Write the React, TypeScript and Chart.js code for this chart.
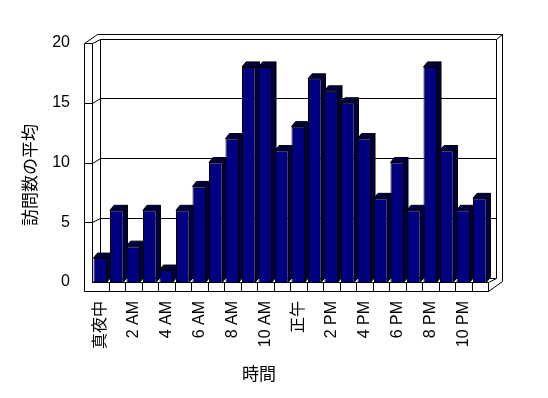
import React, { useEffect, useRef } from 'react';
import { Chart, registerables } from 'chart.js';

Chart.register(...registerables);

// ---- data ----
const hourLabels = [
  '真夜中', '1 AM', '2 AM', '3 AM', '4 AM', '5 AM', '6 AM', '7 AM', '8 AM', '9 AM', '10 AM', '11 AM',
  '正午', '1 PM', '2 PM', '3 PM', '4 PM', '5 PM', '6 PM', '7 PM', '8 PM', '9 PM', '10 PM', '11 PM',
];
const visitAverages = [2, 6, 3, 6, 1, 6, 8, 10, 12, 18, 18, 11, 13, 17, 16, 15, 12, 7, 10, 6, 18, 11, 6, 7];
const yTickValues = [0, 5, 10, 15, 20];
const yAxisTitle = '訪問数の平均';
const xAxisTitle = '時間';

// ---- style ----
const FONT = "'Liberation Sans', 'Noto Sans CJK JP', sans-serif";
const CJK_FONT = "'Noto Sans CJK JP', sans-serif";
const DEPTH = { x: 7.5, y: -4.5 };
const WALL = { x: 6, y: -5 };
const LEFT_WALL = 8.5;
const FLOOR = 8.5;
const BAR_DEPTH = { x: 4, y: -5 };

function makePattern(ctx: CanvasRenderingContext2D) {
  const c = document.createElement('canvas');
  c.width = 2;
  c.height = 2;
  const g = c.getContext('2d')!;
  g.fillStyle = '#000000';
  g.fillRect(0, 0, 2, 2);
  g.fillStyle = '#000080';
  g.fillRect(0, 0, 1, 1);
  g.fillRect(1, 1, 1, 1);
  return ctx.createPattern(c, 'repeat')!;
}

const px = (v: number) => Math.round(v) + 0.5;

function line(ctx: CanvasRenderingContext2D, x1: number, y1: number, x2: number, y2: number) {
  ctx.beginPath();
  ctx.moveTo(px(x1), px(y1));
  ctx.lineTo(px(x2), px(y2));
  ctx.stroke();
}

const frame3d = {
  id: 'frame3d',
  beforeDraw(chart: any) {
    const { ctx, width, height } = chart;
    ctx.save();
    ctx.fillStyle = '#ffffff';
    ctx.fillRect(0, 0, width, height);
    ctx.restore();
  },
  beforeDatasetsDraw(chart: any) {
    const { ctx, chartArea, scales } = chart;
    const xs = scales.x;
    const ys = scales.y;
    const L = chartArea.left;
    const R = chartArea.right;
    const T = ys.getPixelForValue(yTickValues[yTickValues.length - 1]);
    const B = ys.getPixelForValue(0);
    const Dx = DEPTH.x, Dy = DEPTH.y, Wx = WALL.x, Wy = WALL.y;

    ctx.save();
    ctx.strokeStyle = '#000000';
    ctx.lineWidth = 1;

    // back wall gridlines
    yTickValues.forEach((v) => {
      const yy = ys.getPixelForValue(v) + Dy;
      line(ctx, L + Dx, yy, R + Dx, yy);
    });
    line(ctx, L + Dx, T + Dy, L + Dx, B + Dy);
    line(ctx, R + Dx, T + Dy, R + Dx, B + Dy);

    // back wall outer
    const oTop = T + Dy + Wy;
    const oRight = R + Dx + Wx;
    line(ctx, L - LEFT_WALL + Dx + Wx, oTop, oRight, oTop);
    line(ctx, oRight, oTop, oRight, B + FLOOR + Dy + Wy);
    line(ctx, R + Dx, T + Dy, oRight, oTop);

    // left wall
    line(ctx, L - LEFT_WALL, T, L - LEFT_WALL, B + FLOOR);
    line(ctx, L, T, L, B);
    line(ctx, L - LEFT_WALL, T, L - LEFT_WALL + Dx + Wx, oTop);
    yTickValues.forEach((v) => {
      const yy = ys.getPixelForValue(v);
      if (v !== 0) line(ctx, L - LEFT_WALL, yy, L, yy);
      line(ctx, L, yy, L + Dx, yy + Dy);
    });

    // floor
    line(ctx, L, B, R, B);
    line(ctx, L - LEFT_WALL, B + FLOOR, R, B + FLOOR);
    line(ctx, R, B, R, B + FLOOR);
    line(ctx, R, B, R + Dx, B + Dy);
    line(ctx, R, B + FLOOR, oRight, B + FLOOR + Dy + Wy);
    for (let i = 1; i < hourLabels.length; i++) {
      const xx = (xs.getPixelForTick(i - 1) + xs.getPixelForTick(i)) / 2;
      line(ctx, xx, B, xx, B + FLOOR);
    }

    // bar extrusions
    const pattern = makePattern(ctx);
    const meta = chart.getDatasetMeta(0);
    meta.data.forEach((el: any) => {
      const p = el.getProps(['x', 'y', 'base', 'width'], true);
      const left = p.x - p.width / 2;
      const right = p.x + p.width / 2;
      const top = p.y;
      const base = p.base;
      ctx.fillStyle = pattern;
      // side
      ctx.beginPath();
      ctx.moveTo(right, top);
      ctx.lineTo(right + BAR_DEPTH.x, top + BAR_DEPTH.y);
      ctx.lineTo(right + BAR_DEPTH.x, base + BAR_DEPTH.y);
      ctx.lineTo(right, base);
      ctx.closePath();
      ctx.fill();
      ctx.stroke();
      // cap
      ctx.beginPath();
      ctx.moveTo(left, top);
      ctx.lineTo(left + BAR_DEPTH.x, top + BAR_DEPTH.y);
      ctx.lineTo(right + BAR_DEPTH.x, top + BAR_DEPTH.y);
      ctx.lineTo(right, top);
      ctx.closePath();
      ctx.fill();
      ctx.stroke();
    });
    ctx.restore();
  },
  afterDraw(chart: any) {
    const { ctx } = chart;
    ctx.save();
    ctx.fillStyle = '#000000';
    ctx.font = `17px ${CJK_FONT}`;
    ctx.textAlign = 'center';
    ctx.textBaseline = 'middle';
    ctx.fillText(xAxisTitle, 259, 374);
    ctx.translate(29.5, 175);
    ctx.rotate(-Math.PI / 2);
    ctx.fillText(yAxisTitle, 0, 0);
    ctx.restore();
  },
};

export default function App() {
  const canvasRef = useRef<HTMLCanvasElement | null>(null);

  useEffect(() => {
    document.body.style.margin = '0';
    const canvas = canvasRef.current;
    if (!canvas) return;
    const chart = new Chart(canvas, {
      type: 'bar',
      data: {
        labels: hourLabels,
        datasets: [
          {
            data: visitAverages,
            backgroundColor: '#000080',
            borderColor: '#000000',
            borderWidth: 1,
            barPercentage: 0.82,
            categoryPercentage: 1,
          },
        ],
      },
      options: {
        responsive: false,
        animation: false,
        devicePixelRatio: 1,
        layout: { padding: { top: 43, right: 60, left: 0, bottom: 0 } },
        plugins: { legend: { display: false }, tooltip: { enabled: false } },
        scales: {
          x: {
            grid: { display: false, drawTicks: false },
            border: { display: false },
            ticks: {
              autoSkip: false,
              maxRotation: 90,
              minRotation: 90,
              padding: 19,
              color: '#000000',
              font: { family: FONT, size: 16 },
              callback: (_v: any, i: number) => (i % 2 === 0 ? hourLabels[i] : ''),
            },
            afterFit: (s: any) => {
              s.height = 116;
            },
          },
          y: {
            min: 0,
            max: 20,
            grid: { display: false, drawTicks: false },
            border: { display: false },
            ticks: {
              stepSize: 5,
              padding: 22,
              color: '#000000',
              font: { family: FONT, size: 16 },
            },
            afterFit: (s: any) => {
              s.width = 92;
            },
          },
        },
      },
      plugins: [frame3d],
    });
    return () => chart.destroy();
  }, []);

  return <canvas ref={canvasRef} width={548} height={398} style={{ display: 'block' }} />;
}
